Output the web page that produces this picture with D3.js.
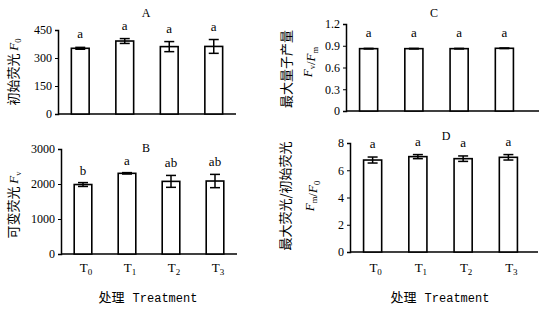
<!DOCTYPE html>
<html lang="zh">
<head>
    <meta charset="UTF-8">
    <title>Chlorophyll fluorescence</title>
    <script src="https://d3js.org/d3.v7.min.js"></script>
    <style>
        body { margin: 0; background: #fff; }
        .tick text { font-family: "Liberation Serif", serif; font-size: 12px; fill: #000; }
        .lbl { font-family: "Liberation Serif", serif; fill: #000; }
        .cjk { font-family: "Noto Sans CJK SC", sans-serif; }
    </style>
</head>
<body>
<script>
    // data
    const treatments = ["0", "1", "2", "3"];   // subscripts of T

    const fo = [352, 391, 361, 362];
    const foErr = [5, 13, 27, 37];
    const foLetters = ["a", "a", "a", "a"];

    const fv = [1985, 2305, 2075, 2085];
    const fvErr = [55, 20, 170, 190];
    const fvLetters = ["b", "a", "ab", "ab"];

    const fvfm = [0.86, 0.86, 0.86, 0.865];
    const fvfmErr = [0.004, 0.004, 0.004, 0.004];
    const fvfmLetters = ["a", "a", "a", "a"];

    const fmfo = [6.75, 7.0, 6.85, 6.95];
    const fmfoErr = [0.22, 0.15, 0.2, 0.2];
    const fmfoLetters = ["a", "a", "a", "a"];

    const foTicks = [0, 150, 300, 450];
    const fvTicks = [0, 1000, 2000, 3000];
    const fvfmTicks = [0, 0.3, 0.6, 0.9, 1.2];
    const fmfoTicks = [0, 2, 4, 6, 8];

    const svg = d3.select("body")
        .append("svg")
        .attr("width", 542)
        .attr("height", 315);

    function drawPanel(p) {
        const x = d3.scaleBand()
            .domain(treatments)
            .range([p.left, p.right])
            .paddingInner(0.6)
            .paddingOuter(0.3);
        const y = d3.scaleLinear()
            .domain([0, p.max])
            .range([p.bottom, p.top]);

        const g = svg.append("g");

        // y axis
        g.append("g")
            .attr("transform", `translate(${p.left},0)`)
            .call(d3.axisLeft(y).tickValues(p.ticks).tickSize(3).tickPadding(3)
                .tickFormat(p.fmt || (d => d)))
            .call(a => a.select(".domain").attr("stroke-width", 1.5))
            .call(a => a.selectAll(".tick line").attr("stroke-width", 1));

        // x axis line
        g.append("line")
            .attr("x1", p.left).attr("x2", p.axisEnd)
            .attr("y1", p.bottom).attr("y2", p.bottom)
            .attr("stroke", "#000").attr("stroke-width", 1.5);

        // bars
        g.selectAll("rect.bar")
            .data(p.values)
            .enter()
            .append("rect")
            .attr("class", "bar")
            .attr("x", (d, i) => x(treatments[i]))
            .attr("y", d => y(d))
            .attr("width", x.bandwidth())
            .attr("height", d => y(0) - y(d))
            .attr("fill", "#fff")
            .attr("stroke", "#000")
            .attr("stroke-width", 1.6);

        // error bars
        const eb = g.selectAll("g.err")
            .data(p.values)
            .enter()
            .append("g")
            .attr("stroke", "#000")
            .attr("stroke-width", 1.5);
        const cx = i => x(treatments[i]) + x.bandwidth() / 2;
        eb.append("line")
            .attr("x1", (d, i) => cx(i)).attr("x2", (d, i) => cx(i))
            .attr("y1", (d, i) => y(d + p.errs[i])).attr("y2", (d, i) => y(d - p.errs[i]));
        eb.append("line")
            .attr("x1", (d, i) => cx(i) - 5).attr("x2", (d, i) => cx(i) + 5)
            .attr("y1", (d, i) => y(d + p.errs[i])).attr("y2", (d, i) => y(d + p.errs[i]));
        eb.append("line")
            .attr("x1", (d, i) => cx(i) - 5).attr("x2", (d, i) => cx(i) + 5)
            .attr("y1", (d, i) => y(d - p.errs[i])).attr("y2", (d, i) => y(d - p.errs[i]));

        // significance letters
        g.selectAll("text.sig")
            .data(p.values)
            .enter()
            .append("text")
            .attr("class", "lbl")
            .attr("x", (d, i) => cx(i))
            .attr("y", (d, i) => y(d + p.errs[i]) - p.gap)
            .attr("text-anchor", "middle")
            .attr("font-size", 13)
            .text((d, i) => p.letters[i]);

        // panel title
        g.append("text")
            .attr("class", "lbl")
            .attr("x", p.titleX).attr("y", p.titleY)
            .attr("text-anchor", "middle")
            .attr("font-size", 12)
            .text(p.title);

        // bottom row gets category labels + axis title
        if (p.showX) {
            const tl = g.selectAll("text.cat")
                .data(treatments)
                .enter()
                .append("text")
                .attr("class", "lbl")
                .attr("x", d => x(d) + x.bandwidth() / 2 + 3)
                .attr("y", 272)
                .attr("text-anchor", "middle")
                .attr("font-size", 13);
            tl.append("tspan").text("T");
            tl.append("tspan").attr("dy", 3).attr("font-size", 9).text(d => d);

            const xt = g.append("text")
                .attr("x", p.xTitleX).attr("y", 302)
                .attr("text-anchor", "middle");
            xt.append("tspan").attr("class", "cjk").attr("font-size", 13).text("处理");
            xt.append("tspan").attr("dx", 8)
                .attr("font-family", "'Liberation Mono', monospace")
                .attr("font-size", 12).text("Treatment");
        }
        return {x, y};
    }

    // y titles with italic F and subscript
    function fLabel(sel, sub, size) {
        sel.append("tspan").attr("font-family", "'Liberation Serif', serif")
            .attr("font-style", "italic").attr("font-size", size).text("F");
        sel.append("tspan").attr("font-family", "'Liberation Serif', serif")
            .attr("font-size", size * 0.65).attr("dy", 3).text(sub);
        sel.append("tspan").attr("dy", -3).text("");
    }

    drawPanel({values: fo, errs: foErr, letters: foLetters, ticks: foTicks, max: 450,
        left: 58, right: 236, axisEnd: 236, top: 30, bottom: 114, gap: 9,
        title: "A", titleX: 146, titleY: 17});
    drawPanel({values: fv, errs: fvErr, letters: fvLetters, ticks: fvTicks, max: 3000,
        left: 61, right: 237, axisEnd: 237, top: 149, bottom: 254, gap: 8,
        title: "B", titleX: 146, titleY: 152, showX: true, xTitleX: 148});
    drawPanel({values: fvfm, errs: fvfmErr, letters: fvfmLetters, ticks: fvfmTicks, max: 1.2,
        fmt: d3.format(".1~f"),
        left: 346, right: 527, axisEnd: 539, top: 24, bottom: 111, gap: 11,
        title: "C", titleX: 434, titleY: 17});
    drawPanel({values: fmfo, errs: fmfoErr, letters: fmfoLetters, ticks: fmfoTicks, max: 8,
        left: 350, right: 531, axisEnd: 538, top: 143, bottom: 252, gap: 9,
        title: "D", titleX: 446, titleY: 140, showX: true, xTitleX: 440});

    // A
    let t = svg.append("text").attr("transform", "translate(18,72) rotate(-90)")
        .attr("text-anchor", "middle");
    t.append("tspan").attr("class", "cjk").attr("font-size", 13).text("初始荧光 ");
    fLabel(t, "0", 13);

    // B
    t = svg.append("text").attr("transform", "translate(18,205) rotate(-90)")
        .attr("text-anchor", "middle");
    t.append("tspan").attr("class", "cjk").attr("font-size", 13).text("可变荧光 ");
    fLabel(t, "v", 13);

    // C
    svg.append("text").attr("transform", "translate(291,69) rotate(-90)")
        .attr("text-anchor", "middle").attr("class", "cjk").attr("font-size", 13)
        .text("最大量子产量");
    t = svg.append("text").attr("transform", "translate(312,62) rotate(-90)")
        .attr("text-anchor", "middle");
    fLabel(t, "v", 13);
    t.append("tspan").attr("font-family", "'Liberation Serif', serif").attr("font-size", 13).text("/");
    fLabel(t, "m", 13);

    // D
    svg.append("text").attr("transform", "translate(290,196) rotate(-90)")
        .attr("text-anchor", "middle").attr("class", "cjk").attr("font-size", 13)
        .text("最大荧光/初始荧光");
    t = svg.append("text").attr("transform", "translate(314,196) rotate(-90)")
        .attr("text-anchor", "middle");
    fLabel(t, "m", 13);
    t.append("tspan").attr("font-family", "'Liberation Serif', serif").attr("font-size", 13).text("/");
    fLabel(t, "0", 13);
</script>
</body>
</html>
